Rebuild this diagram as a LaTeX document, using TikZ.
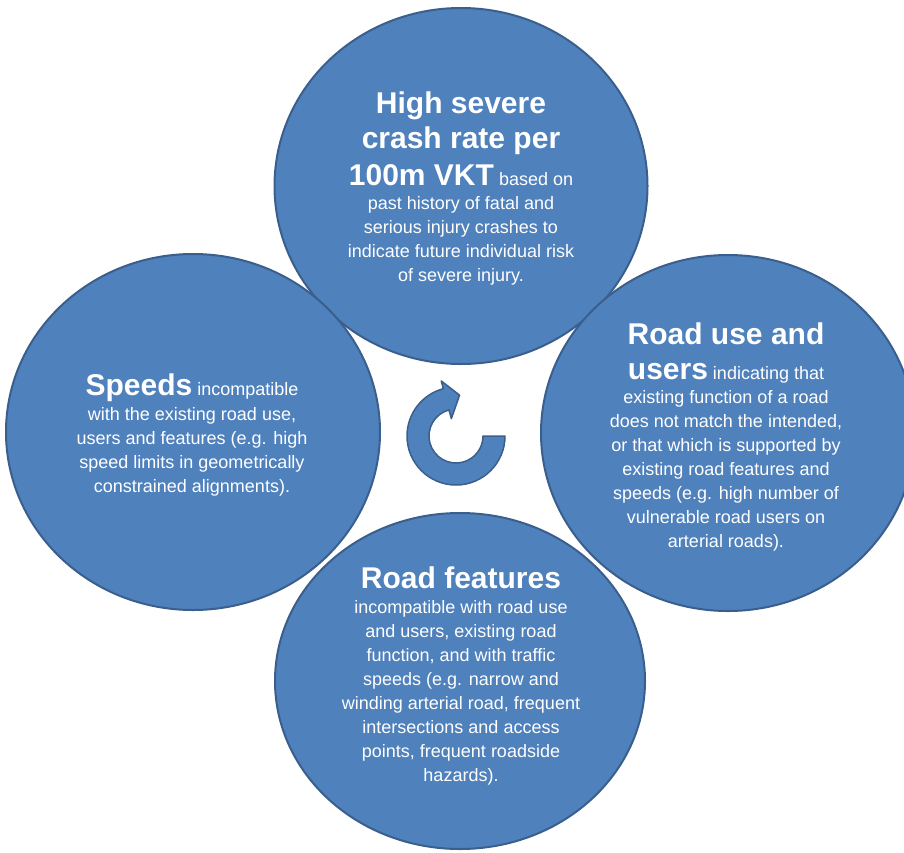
\documentclass[tikz,border=0pt]{standalone}
\usepackage{fontspec}
\setmainfont{Liberation Sans}
\usetikzlibrary{shapes.geometric}
\definecolor{cfill}{HTML}{4F81BD}
\definecolor{cline}{HTML}{3A5F8C}
\begin{document}
\begin{tikzpicture}[x=1pt,y=-1pt,
  bubble/.style={ellipse, fill=cfill, draw=cline, line width=2pt, inner sep=0pt},
  hd/.style={text=white, font=\fontsize{30}{36}\selectfont\bfseries, anchor=base, inner sep=0pt},
  bd/.style={text=white, font=\fontsize{18}{24}\selectfont, anchor=base, inner sep=0pt}]
\newcommand{\bigb}[1]{{\fontsize{30}{36}\selectfont\bfseries #1}}
\useasboundingbox (0,0) rectangle (904,852);
\clip (0,0) rectangle (904,852);

% circles
\node[bubble, minimum width=373pt, minimum height=356pt] (ctop) at (461,186) {};
\node[bubble, minimum width=374pt, minimum height=356pt] (cleft) at (193,432) {};
\node[bubble, minimum width=374pt, minimum height=356pt] (cright) at (728,433) {};
\node[bubble, minimum width=370pt, minimum height=336pt] (cbot) at (460,681) {};

% centre circular arrow
\begin{scope}[shift={(456,436)}, yscale=-1]
  \fill[cfill, draw=cline, line width=1.5pt, line join=round]
    (0:49) arc[start angle=0, end angle=-255, radius=49]
    -- (105:57) -- (85:41) -- (105:18) -- (105:27)
    arc[start angle=-255, end angle=0, radius=27] -- cycle;
\end{scope}

% top circle text
\node[hd] (t1) at (461,113) {High severe};
\node[hd] (t2) at (461,148) {crash rate per};
\node[bd] (t3) at (461,185) {\bigb{100m VKT} based on};
\node[bd] (t4) at (461,209) {past history of fatal and};
\node[bd] (t5) at (461,233) {serious injury crashes to};
\node[bd] (t6) at (461,257) {indicate future individual risk};
\node[bd] (t7) at (461,281) {of severe injury.};

% left circle text
\node[bd] (l1) at (192,395) {\bigb{Speeds} incompatible};
\node[bd] (l2) at (192,420) {with the existing road use,};
\node[bd] (l3) at (192,444) {users and features (e.g. high};
\node[bd] (l4) at (192,468) {speed limits in geometrically};
\node[bd] (l5) at (192,492) {constrained alignments).};

% right circle text
\node[hd] (r1) at (726,344) {Road use and};
\node[bd] (r2) at (726,379) {\bigb{users} indicating that};
\node[bd] (r3) at (726,403) {existing function of a road};
\node[bd] (r4) at (726,427) {does not match the intended,};
\node[bd] (r5) at (726,451) {or that which is supported by};
\node[bd] (r6) at (726,475) {existing road features and};
\node[bd] (r7) at (726,499) {speeds (e.g. high number of};
\node[bd] (r8) at (726,523) {vulnerable road users on};
\node[bd] (r9) at (726,547) {arterial roads).};

% bottom circle text
\node[hd] (b1) at (461,588) {Road features};
\node[bd] (b2) at (461,613) {incompatible with road use};
\node[bd] (b3) at (461,637) {and users, existing road};
\node[bd] (b4) at (461,661) {function, and with traffic};
\node[bd] (b5) at (461,685) {speeds (e.g. narrow and};
\node[bd] (b6) at (461,709) {winding arterial road, frequent};
\node[bd] (b7) at (461,733) {intersections and access};
\node[bd] (b8) at (461,757) {points, frequent roadside};
\node[bd] (b9) at (461,781) {hazards).};
\end{tikzpicture}
\end{document}
